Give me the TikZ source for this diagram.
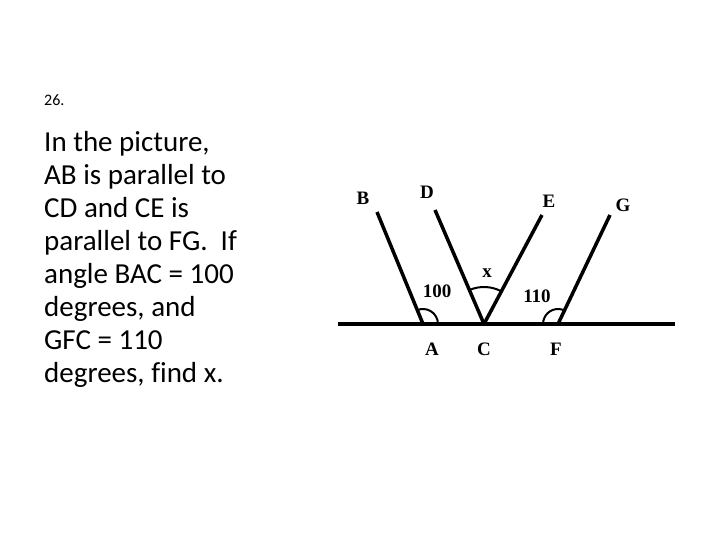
\documentclass[tikz,border=0pt]{standalone}
\usepackage{fontspec}
\setmainfont{Carlito}[Ligatures=NoCommon]
\newfontfamily\lblfont{Liberation Serif}
\begin{document}
\begin{tikzpicture}[x=1pt,y=-1pt,
  ln/.style={line width=3.5pt},
  arcl/.style={line width=2pt},
  lbl/.style={font=\lblfont\bfseries\fontsize{19}{19}\selectfont, inner sep=0pt}]
\useasboundingbox (0,0) rectangle (720,540);
\node[anchor=west, font=\fontsize{16}{18}\selectfont, inner sep=0pt] (num) at (44,100) {26.};
\node[anchor=north west, align=left, inner sep=0pt, font=\fontsize{29}{33}\selectfont] (txt) at (44,131)
 {In the picture,\\AB is parallel to\\CD and CE is\\parallel to FG.\ \ If\\angle BAC = 100\\degrees, and\\GFC = 110\\degrees, find x.};
\coordinate (L) at (338,324); \coordinate (R) at (675,324);
\coordinate (A) at (423,324); \coordinate (C) at (484,324); \coordinate (F) at (558,324);
\coordinate (Bp) at (377,212); \coordinate (Dp) at (435,210); \coordinate (Ep) at (542,215); \coordinate (Gp) at (610,215);
\draw[ln] (L) -- (R);
\draw[ln] (A) -- (Bp);
\draw[ln] (C) -- (Dp);
\draw[ln] (C) -- (Ep);
\draw[ln] (F) -- (Gp);
\draw[arcl] ([shift={(15,0)}]A) arc[start angle=0, end angle=-112, radius=15];
\draw[arcl] (C) ++(-62.4:37) arc[start angle=-62.4, end angle=-112.8, radius=37];
\draw[arcl] (F) ++(-64.5:15) arc[start angle=-64.5, end angle=-180, radius=15];
\node[lbl] (B) at (363,198) {B};
\node[lbl] (D) at (427,192) {D};
\node[lbl] (E) at (549,201) {E};
\node[lbl] (G) at (623,205) {G};
\node[lbl] (An) at (432,349) {A};
\node[lbl] (Cn) at (484,349) {C};
\node[lbl] (Fn) at (556,349) {F};
\node[lbl] (a100) at (437,291) {100};
\node[lbl] (ax) at (487,273) {x};
\node[lbl] (a110) at (537,296) {110};
\end{tikzpicture}
\end{document}
